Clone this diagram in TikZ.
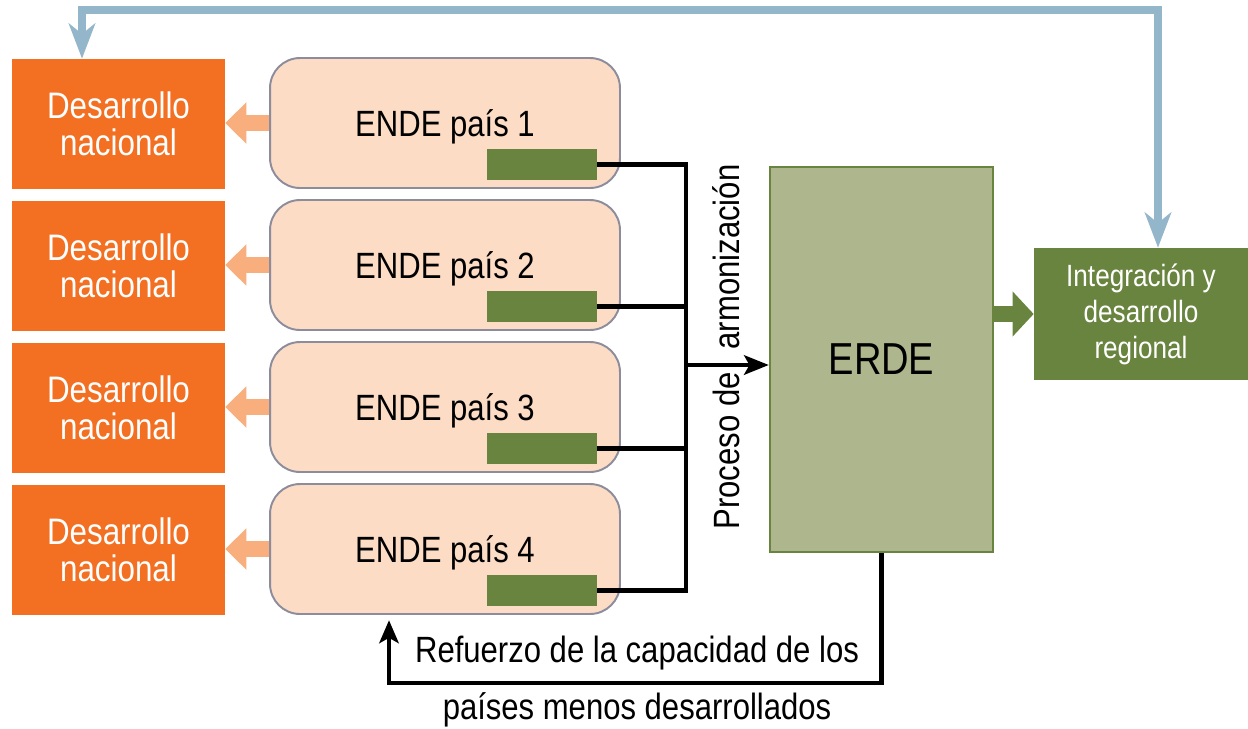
\documentclass[tikz,border=0pt]{standalone}
\usepackage{fontspec}
\setmainfont{Liberation Sans}[FakeStretch=0.85]
\usetikzlibrary{arrows.meta}
\definecolor{orng}{HTML}{F36F21}
\definecolor{lorng}{HTML}{F9AE7E}
\definecolor{peach}{HTML}{FCDCC4}
\definecolor{grayb}{HTML}{8C8C9C}
\definecolor{olive}{HTML}{68843F}
\definecolor{erdef}{HTML}{ADB68C}
\definecolor{azul}{HTML}{94B6CA}
\begin{document}
\begin{tikzpicture}[x=0.02cm,y=-0.02cm]
    \tikzstyle{nacional}=[fill=orng,text=white,minimum width=4.26cm,minimum height=2.6cm,align=center,font=\fontsize{21}{21}\selectfont]
    \tikzstyle{ende}=[fill=peach,draw=grayb,line width=1.1pt,rounded corners=0.6cm,minimum width=7cm,minimum height=2.6cm]
    \tikzstyle{marca}=[fill=olive,minimum width=2.2cm,minimum height=0.62cm,inner sep=0pt]
    \tikzstyle{flecha}=[line width=9pt,lorng,-{Triangle[length=12pt,width=23pt]}]
    \tikzstyle{linea}=[line width=2.6pt,line join=miter]
    \tikzstyle{leyenda}=[font=\fontsize{20.8}{24}\selectfont]

    \useasboundingbox (0,0) rectangle (1248,728);

      \node (D1) at (118.5,124) [nacional] {Desarrollo\\nacional};
      \node (D2) at (118.5,266) [nacional] {Desarrollo\\nacional};
      \node (D3) at (118.5,408) [nacional] {Desarrollo\\nacional};
      \node (D4) at (118.5,550) [nacional] {Desarrollo\\nacional};

      \node (E1) at (445,123) [ende] {};
      \node (E2) at (445,265) [ende] {};
      \node (E3) at (445,407) [ende] {};
      \node (E4) at (445,549) [ende] {};
      \node (L1) at (445,127) [leyenda] {ENDE país 1};
      \node (L2) at (445,269) [leyenda] {ENDE país 2};
      \node (L3) at (445,411) [leyenda] {ENDE país 3};
      \node (L4) at (445,553) [leyenda] {ENDE país 4};

      \node (G1) at (542,164.5) [marca] {};
      \node (G2) at (542,306.5) [marca] {};
      \node (G3) at (542,448.5) [marca] {};
      \node (G4) at (542,590.5) [marca] {};

      \node (ERDE) at (881.5,359.5) [minimum width=4.46cm,minimum height=7.7cm,fill=erdef,draw=olive,line width=1.4pt,font=\fontsize{25.5}{30}\selectfont] {ERDE};
      \node (INT) at (1141,314) [minimum width=4.28cm,minimum height=2.64cm,fill=olive,text=white,align=center,font=\fontsize{17.5}{20.5}\selectfont] {Integración y\\desarrollo\\regional};

      \node (PA) at (726,347) [rotate=90,leyenda] {Proceso de\hspace{13pt}armonización};
      \node (T1) at (637,653) [leyenda] {Refuerzo de la capacidad de los};
      \node (T2) at (637,710) [leyenda] {países menos desarrollados};

      \coordinate (J1) at (686,164.5);
      \coordinate (J2) at (686,306.5);
      \coordinate (J3) at (686,448.5);
      \coordinate (J4) at (686,590.5);
      \coordinate (J) at (686,365);
      \coordinate (B) at (389,683);
      \coordinate (A1) at (82,10);
      \coordinate (A2) at (1158,10);

      \draw[flecha] (E1.west) -- (D1.east |- E1.west);
      \draw[flecha] (E2.west) -- (D2.east |- E2.west);
      \draw[flecha] (E3.west) -- (D3.east |- E3.west);
      \draw[flecha] (E4.west) -- (D4.east |- E4.west);

      \draw[linea] (G1.east) -- (J1) -- (J4) -- (G4.east);
      \draw[linea] (G2.east) -- (J2);
      \draw[linea] (G3.east) -- (J3);
      \draw[linea,-{Stealth[length=14pt,width=11pt,inset=3pt]}] (J) -- (J -| ERDE.west);

      \draw[linea,-{Stealth[length=13pt,width=11pt,inset=3pt]}] (ERDE.south) |- (B) -- (B |- E4.south) [shorten >=3pt];

      \draw[line width=9pt,olive,-{Triangle[length=12pt,width=25pt]}] (ERDE.east |- INT.west) -- (INT.west);

      \draw[azul,line width=4.5pt,line join=miter,{Stealth[length=20pt,width=15pt,inset=6pt]}-{Stealth[length=20pt,width=15pt,inset=6pt]}] (A2 |- INT.north) -- (A2) -- (A1) -- (A1 |- D1.north);
  \end{tikzpicture}
\end{document}
